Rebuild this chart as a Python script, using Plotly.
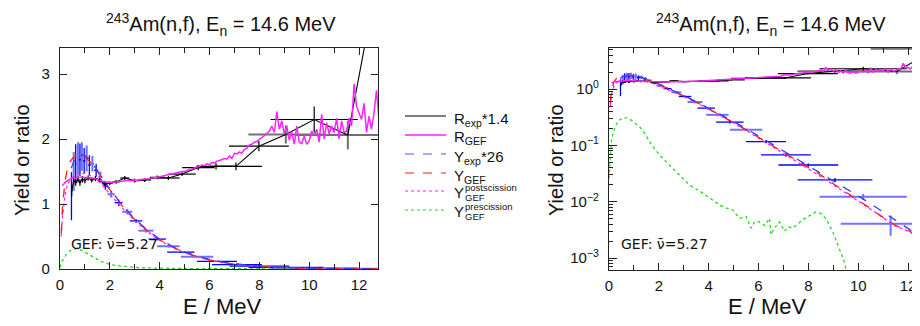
import plotly.graph_objects as go

W, H = 920, 326
OFF = 8  # the page body margin shifts the figure by 8 px
def px(x): return (x - OFF) / W
def py(y): return 1 - (y - OFF) / H

# ---------------- data ----------------
# R_exp * 1.4 (black, with x/y error bars)
E_rexp  = [0.47, 0.55, 0.63, 0.72, 0.80, 0.90, 1.00, 1.13, 1.27, 1.42, 1.58, 1.78, 2.00, 2.25, 2.60, 3.00, 3.40, 3.90, 4.35, 4.90, 5.55, 6.26, 7.06, 7.98, 9.06, 10.20, 11.55, 13.10]
R_rexp  = [1.20, 1.36, 1.33, 1.38, 1.33, 1.38, 1.36, 1.40, 1.37, 1.39, 1.37, 1.31, 1.32, 1.34, 1.40, 1.36, 1.37, 1.41, 1.40, 1.46, 1.56, 1.58, 1.58, 1.89, 2.07, 2.30, 2.06, 5.20]
R_rexp_dx = [0.03, 0.03, 0.04, 0.04, 0.04, 0.05, 0.05, 0.06, 0.07, 0.08, 0.09, 0.10, 0.12, 0.14, 0.18, 0.20, 0.25, 0.30, 0.45, 0.55, 0.65, 0.80, 1.04, 1.20, 1.50, 1.75, 2.10, 2.60]
R_rexp_dy = [0.08, 0.06, 0.05, 0.05, 0.05, 0.05, 0.04, 0.04, 0.04, 0.04, 0.03, 0.03, 0.03, 0.03, 0.03, 0.03, 0.03, 0.03, 0.03, 0.03, 0.04, 0.05, 0.06, 0.08, 0.14, 0.20, 0.22, 0.50]
R_rexp_grey = [False]*24 + [True, False, True, True]

# Y_exp * 26 (blue, with x/y error bars)
E_yexp  = [0.46, 0.55, 0.63, 0.72, 0.80, 0.88, 0.97, 1.07, 1.18, 1.30, 1.45, 1.62, 1.82, 2.05, 2.35, 2.70, 3.05, 3.45, 3.90, 4.35, 4.85, 5.50, 6.30, 7.10, 8.00, 9.07, 10.20, 11.30]
Y_yexp  = [1.12, 1.50, 1.62, 1.70, 1.68, 1.73, 1.66, 1.70, 1.60, 1.62, 1.52, 1.42, 1.27, 1.15, 1.02, 0.88, 0.74, 0.59, 0.46, 0.35, 0.26, 0.19, 0.117, 0.068, 0.045, 0.0245, 0.0123, 0.0041]
Y_yexp_dx = [0.02, 0.03, 0.03, 0.04, 0.04, 0.04, 0.05, 0.05, 0.06, 0.07, 0.08, 0.09, 0.10, 0.14, 0.16, 0.20, 0.25, 0.30, 0.35, 0.45, 0.55, 0.65, 0.80, 1.00, 1.20, 1.50, 1.75, 2.00]
Y_yexp_dy = [0.37, 0.30, 0.30, 0.25, 0.25, 0.22, 0.20, 0.20, 0.15, 0.12, 0.10, 0.08, 0.05, 0.05, 0.05, 0.04, 0.03, 0.03, 0.02, 0.02, 0.015, 0.01, 0.008, 0.005, 0.003, 0.002, 0.0015, 0.0016]
Y_yexp_light = [False, True, False, True, False, True, False, True, False, True, False, True, False, True, False, True, False, True, False, True, False, True, False, False, False, False, True, True]

# smooth curves (common energy grid)
E_curve = [0.05, 0.1, 0.2, 0.3, 0.4, 0.5, 0.6, 0.7, 0.8, 0.9, 1.0, 1.2, 1.4, 1.6, 1.8, 2.0, 2.5, 3.0, 3.5, 4.0, 4.5, 5.0, 5.5, 6.0, 6.5, 7.0, 7.5, 8.0, 8.5, 9.0, 9.5, 10.0, 10.5, 11.0, 11.5, 12.0, 12.5, 12.8]
Y_gef   = [0.55, 0.95, 1.35, 1.55, 1.65, 1.70, 1.73, 1.75, 1.75, 1.74, 1.72, 1.65, 1.55, 1.45, 1.33, 1.22, 0.97, 0.76, 0.59, 0.45, 0.34, 0.255, 0.19, 0.14, 0.103, 0.075, 0.055, 0.041, 0.030, 0.021, 0.015, 0.0108, 0.0076, 0.0053, 0.0038, 0.0031, 0.0024, 0.0022]
Y_post  = [0.50, 0.80, 1.13, 1.30, 1.37, 1.41, 1.43, 1.45, 1.46, 1.47, 1.47, 1.44, 1.39, 1.33, 1.25, 1.15, 0.94, 0.74, 0.58, 0.44, 0.335, 0.25, 0.186, 0.136, 0.100, 0.073, 0.053, 0.038, 0.028, 0.020, 0.0145, 0.0103, 0.0074, 0.0052, 0.0037, 0.0030, 0.0023, 0.0021]

E_fit   = [0.45, 0.6, 0.8, 1.0, 1.2, 1.4, 1.6, 1.8, 2.0, 2.5, 3.0, 3.5, 4.0, 4.5, 5.0, 5.5, 6.0, 6.5, 7.0, 7.5, 8.0, 8.5, 9.0, 9.5, 10.0, 10.5, 11.0, 11.5, 12.0, 12.5]
Y_fit   = [1.55, 1.70, 1.76, 1.75, 1.68, 1.57, 1.46, 1.34, 1.23, 0.98, 0.77, 0.60, 0.46, 0.35, 0.265, 0.20, 0.148, 0.110, 0.081, 0.060, 0.044, 0.032, 0.0235, 0.0172, 0.0128, 0.0093, 0.0066, 0.0047, 0.0034, 0.0024]

E_pre   = [0.0, 0.1, 0.25, 0.4, 0.57, 0.7, 0.85, 1.0, 1.25, 1.45, 1.65, 1.85, 2.05, 2.45, 2.85, 3.25, 3.6, 3.9, 4.2, 4.45, 4.7, 4.97, 5.24, 5.5, 5.7, 5.85, 6.04, 6.25, 6.44, 6.5, 6.65, 6.84, 7.04, 7.2, 7.37, 7.55, 7.77, 8.0, 8.3, 8.5, 8.7, 8.97, 9.24, 9.44, 9.6, 10.0, 11.0, 12.0, 12.8]
Y_pre   = [0.026, 0.13, 0.22, 0.28, 0.31, 0.31, 0.29, 0.26, 0.21, 0.16, 0.113, 0.085, 0.066, 0.044, 0.029, 0.0195, 0.016, 0.013, 0.0105, 0.0087, 0.0078, 0.0071, 0.0051, 0.0055, 0.0034, 0.0045, 0.0044, 0.0038, 0.0051, 0.0026, 0.0035, 0.0044, 0.0030, 0.0036, 0.0034, 0.0040, 0.0048, 0.0055, 0.0066, 0.0062, 0.0051, 0.0030, 0.0015, 0.00087, 0.0004, 0.0001, 0.00002, 0.00001, 0.00001]

E_rgef = [round(0.1 * i, 1) for i in range(1, 129)]
R_gef = [1.28, 1.33, 1.36, 1.38, 1.40, 1.40, 1.41, 1.41, 1.41, 1.41,
         1.41, 1.40, 1.40, 1.39, 1.37, 1.36, 1.35, 1.34, 1.33, 1.33,
         1.33, 1.34, 1.34, 1.35, 1.35, 1.36, 1.36, 1.36, 1.36, 1.37,
         1.37, 1.37, 1.38, 1.38, 1.38, 1.39, 1.40, 1.40, 1.41, 1.42,
         1.43, 1.44, 1.45, 1.45, 1.46, 1.47, 1.48, 1.49, 1.50, 1.50,
         1.52, 1.53, 1.54, 1.56, 1.57, 1.58, 1.60, 1.59, 1.62, 1.60,
         1.64, 1.63, 1.66, 1.67, 1.68, 1.70, 1.69, 1.74, 1.70, 1.78,
         1.77, 1.80, 1.78, 1.84, 1.86, 1.91, 1.92, 1.95, 1.96, 2.00,
         2.02, 2.05, 2.08, 2.12, 2.20, 2.10, 2.42, 2.15, 2.28, 2.08,
         2.20, 1.98, 2.10, 1.92, 2.20, 1.95, 1.93, 2.05, 1.92, 1.97,
         2.12, 2.05, 2.15, 1.95, 2.38, 2.00, 2.25, 2.08, 2.20, 2.10,
         2.32, 2.00, 2.28, 2.10, 2.12, 2.32, 2.20, 2.85, 2.50, 2.40,
         2.30, 2.55, 2.10, 2.35, 2.15, 2.40, 2.75, 2.30]

title_text = "<sup>243</sup>Am(n,f), E<sub>n</sub> = 14.6 MeV"
gef_text = "GEF: \u03bd\u0304=5.27"
log_tickvals = [1e-3, 1e-2, 1e-1, 1]
log_ticktext = ["10<sup>\u22123</sup>", "10<sup>\u22122</sup>", "10<sup>\u22121</sup>", "10<sup>0</sup>"]

legend_main = ["R", "R", "Y", "Y", "Y", "Y"]
legend_sub = ["exp", "GEF", "exp", "GEF", "GEF", "GEF"]
legend_sup = ["", "", "", "", "postscission", "prescission"]
legend_tail = ["*1.4", "", "*26", "", "", ""]

# ---------------- styles ----------------
BLACK = "#000000"
GREY = "#707070"
MAG = "#ff22ff"
BLUE = "#0000ff"
LBLUE = "#7272ff"
RED = "#ff1a1a"
GREEN = "#22dd22"
FONT = "Liberation Sans, Arial, sans-serif"

styles = [
    dict(color=BLACK, width=1.2, dash="solid"),
    dict(color=MAG, width=1.6, dash="solid"),
    dict(color="#5555ff", width=1.2, dash="dash"),
    dict(color=RED, width=1.2, dash="dash"),
    dict(color=MAG, width=1.2, dash="dot"),
    dict(color=GREEN, width=1.2, dash="dot"),
]

fig = go.Figure()

def sel(lst, mask, want):
    return [v for v, m in zip(lst, mask) if m == want]

def add_all(xa, ya):
    kw = dict(xaxis=xa, yaxis=ya, showlegend=False, hoverinfo="skip")
    for light in (True, False):
        fig.add_trace(go.Scatter(
            x=sel(E_yexp, Y_yexp_light, light), y=sel(Y_yexp, Y_yexp_light, light),
            mode="markers", marker=dict(size=1, color=LBLUE if light else BLUE),
            error_x=dict(type="data", array=sel(Y_yexp_dx, Y_yexp_light, light), width=0,
                         color=LBLUE if light else BLUE, thickness=2.0 if light else 1.3),
            error_y=dict(type="data", array=sel(Y_yexp_dy, Y_yexp_light, light), width=0,
                         color=LBLUE if light else BLUE, thickness=2.0 if light else 1.3),
            **kw))
    fig.add_trace(go.Scatter(x=E_pre, y=Y_pre, mode="lines", line=dict(color=GREEN, width=1.3, dash="dot"), **kw))
    fig.add_trace(go.Scatter(x=E_curve, y=Y_post, mode="lines", line=dict(color=MAG, width=1.3, dash="dot"), **kw))
    fig.add_trace(go.Scatter(x=E_curve, y=Y_gef, mode="lines", line=dict(color=RED, width=1.3, dash="dash"), **kw))
    fig.add_trace(go.Scatter(x=E_fit, y=Y_fit, mode="lines", line=dict(color="#3a3aff", width=1.3, dash="dash"), **kw))
    for grey in (True, False):
        fig.add_trace(go.Scatter(
            x=sel(E_rexp, R_rexp_grey, grey), y=sel(R_rexp, R_rexp_grey, grey),
            mode="markers", marker=dict(size=1, color=GREY if grey else BLACK),
            error_x=dict(type="data", array=sel(R_rexp_dx, R_rexp_grey, grey), width=0,
                         color=GREY if grey else BLACK, thickness=2.0 if grey else 1.2),
            error_y=dict(type="data", array=sel(R_rexp_dy, R_rexp_grey, grey), width=0,
                         color=GREY if grey else BLACK, thickness=2.0 if grey else 1.2),
            **kw))
    fig.add_trace(go.Scatter(x=E_rexp, y=R_rexp, mode="lines", line=dict(color=BLACK, width=1.1), **kw))
    fig.add_trace(go.Scatter(x=E_rgef, y=R_gef, mode="lines", line=dict(color=MAG, width=1.5), **kw))

add_all("x", "y")
add_all("x2", "y2")

axis_common = dict(showline=True, linecolor="#222222", linewidth=1.2, ticks="inside",
                   tickcolor="#222222", showgrid=False, zeroline=False, automargin=False,
                   tickfont=dict(family=FONT, size=15, color="#111111"))

fig.update_layout(
    template="none",
    width=W, height=H, margin=dict(l=0, r=0, t=0, b=0, pad=0), autosize=False,
    paper_bgcolor="white", plot_bgcolor="white",
    font=dict(family=FONT, color="#111111"),
    xaxis=dict(domain=[px(60), px(378)], range=[0, 12.76], anchor="y", dtick=2, tick0=0,
               ticklen=7, mirror="ticks", minor=dict(dtick=1, ticks="inside", ticklen=5, tickcolor="#222222"),
               ticklabelstandoff=2, **axis_common),
    yaxis=dict(domain=[py(269), py(48)], range=[0, 3.4], anchor="x", dtick=1, tick0=0,
               ticklen=7, mirror="ticks", ticklabelstandoff=6, **axis_common),
    xaxis2=dict(domain=[px(609), px(927)], range=[0, 12.76], anchor="y2", dtick=2, tick0=0,
                ticklen=7, mirror="ticks", minor=dict(dtick=1, ticks="inside", ticklen=5, tickcolor="#222222"),
                ticklabelstandoff=2, **axis_common),
    yaxis2=dict(domain=[py(270), py(48)], type="log", range=[-3.21, 0.73], anchor="x2",
                tickmode="array", tickvals=log_tickvals, ticktext=log_ticktext,
                ticklen=8, mirror="ticks", ticklabelstandoff=6,
                minor=dict(tickmode="array",
                           tickvals=[m * 10.0 ** d for d in (-4, -3, -2, -1, 0) for m in range(2, 10)],
                           ticks="inside", ticklen=4, tickcolor="#222222"),
                **axis_common),
)

ann = []
for cx in (221, 771):
    ann.append(dict(x=px(cx), y=py(24), xref="paper", yref="paper", text=title_text, showarrow=False,
                    font=dict(family=FONT, size=20), xanchor="center", yanchor="middle", borderpad=0))
for cx in (222, 767):
    ann.append(dict(x=px(cx), y=py(306), xref="paper", yref="paper", text="E / MeV", showarrow=False,
                    font=dict(family=FONT, size=22), xanchor="center", yanchor="middle"))
for cx in (22, 556):
    ann.append(dict(x=px(cx), y=py(160), xref="paper", yref="paper", text="Yield or ratio", showarrow=False,
                    textangle=-90, font=dict(family=FONT, size=20), xanchor="center", yanchor="middle"))
for cx in (69, 619):
    ann.append(dict(x=px(cx), y=py(244), xref="paper", yref="paper", text=gef_text, showarrow=False,
                    font=dict(family="DejaVu Sans, " + FONT, size=14), xanchor="left", yanchor="middle"))

# manual legend
rows = [116, 135, 154, 173, 191, 210]
shapes = []
for i, yy in enumerate(rows):
    st = styles[i]
    shapes.append(dict(type="line", xref="paper", yref="paper", x0=px(405), x1=px(446), y0=py(yy), y1=py(yy),
                       line=dict(color=st["color"], width=st["width"], dash=st["dash"])))
    if legend_sup[i]:
        ann.append(dict(x=px(453), y=py(yy + 1), xref="paper", yref="paper", text=legend_main[i], showarrow=False,
                        font=dict(family=FONT, size=15), xanchor="left", yanchor="middle", borderpad=0))
        ann.append(dict(x=px(464), y=py(yy - 4), xref="paper", yref="paper", text=legend_sup[i], showarrow=False,
                        font=dict(family=FONT, size=9.5), xanchor="left", yanchor="middle", borderpad=0))
        ann.append(dict(x=px(464), y=py(yy + 6), xref="paper", yref="paper", text=legend_sub[i], showarrow=False,
                        font=dict(family=FONT, size=9.5), xanchor="left", yanchor="middle", borderpad=0))
    else:
        txt = legend_main[i] + "<sub>" + legend_sub[i] + "</sub>" + legend_tail[i]
        ann.append(dict(x=px(453), y=py(yy + 3), xref="paper", yref="paper", text=txt, showarrow=False,
                        font=dict(family=FONT, size=15), xanchor="left", yanchor="middle", borderpad=0))

fig.update_layout(annotations=ann, shapes=shapes)
fig.write_html("out.html")
